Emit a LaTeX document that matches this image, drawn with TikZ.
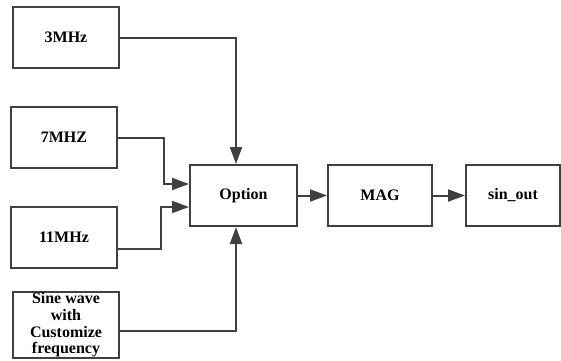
\documentclass[tikz,border=0pt]{standalone}
\usepackage{fontspec}
\setmainfont{Liberation Serif}
\usepackage{tikz}
\usetikzlibrary{arrows.meta, positioning, calc}
\usepackage{xcolor}
\definecolor{linegray}{RGB}{64, 64, 64}

\begin{document}
\begin{tikzpicture}[x=1pt, y=1pt]
                % Styles
                \tikzset{blk/.style={draw=linegray, line width=2pt, minimum width=106pt, minimum height=61pt, inner sep=1pt, font=\fontsize{16}{16.7}\selectfont\bfseries, align=center}}
                \tikzset{wire/.style={color=linegray, line width=2pt, -{Triangle[length=17pt, width=12pt]}}}
                \useasboundingbox (0,0) rectangle (561,360);

                % Sources
                \node[blk] (f3) at (66,322.5) {3MHz};
                \node[blk] (f7) at (64,222.5) {7MHZ};
                \node[blk] (f11) at (64,122.5) {11MHz};
                \node[blk, minimum height=66pt] (sine) at (66,35) {Sine wave\\with\\Customize\\frequency};

                % Chain
                \node[blk, minimum width=107pt] (opt) at (243.5,164.5) {Option};
                \node[blk, minimum width=104pt] (mag) at (380,164.5) {MAG};
                \node[blk, minimum width=94pt] (out) at (513,164.5) {sin\_out};

                % Arrows
                \draw[wire] (f3.east) -| ([xshift=-7.5pt]opt.north);
                \draw[wire] (f7.east) -- ++(46,0) |- ([yshift=11.5pt]opt.west);
                \draw[wire] ([yshift=-11.5pt]f11.east) -- ++(43,0) |- ([yshift=-11.5pt]opt.west);
                \draw[wire] ([yshift=-6pt]sine.east) -| ([xshift=-7.5pt]opt.south);
                \draw[wire] (opt) -- (mag);
                \draw[wire] (mag) -- (out);
            \end{tikzpicture}
\end{document}
